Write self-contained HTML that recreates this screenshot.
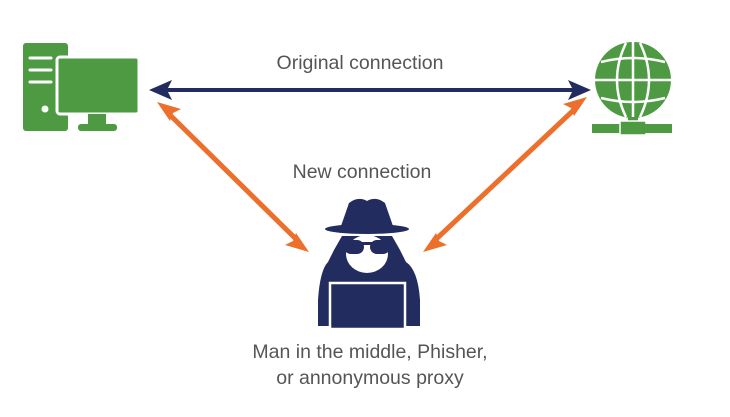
<!DOCTYPE html>
<html><head><style>
html,body{margin:0;padding:0;background:#fff;}
svg{display:block}
text{font-family:"Liberation Sans",sans-serif;fill:#555;font-size:19.5px;font-weight:300;}
</style></head><body>
<svg width="730" height="417" viewBox="0 0 730 417" xmlns="http://www.w3.org/2000/svg">
<g fill="#4e9a43">
<rect x="23" y="43" width="45" height="88" rx="3"/>
<rect x="57" y="57" width="82" height="57" rx="3" stroke="#fff" stroke-width="3"/>
<rect x="88" y="114" width="18" height="10"/>
<rect x="78" y="124" width="39" height="7" rx="3"/>
</g>
<g stroke="#fff" stroke-width="3" stroke-linecap="round">
<line x1="30" y1="58" x2="51" y2="58"/>
<line x1="30" y1="70" x2="51" y2="70"/>
<line x1="30" y1="82" x2="51" y2="82"/>
</g>
<circle cx="45" cy="109" r="3.5" fill="#fff"/>
<g>
<circle cx="633" cy="80" r="38" fill="#4e9a43"/>
<g stroke="#fff" stroke-width="2.5" fill="none">
<path d="M626 43 Q608 80 626 117"/>
<path d="M640 43 Q658 80 640 117"/>
<line x1="633" y1="42" x2="633" y2="118"/>
<line x1="595" y1="80" x2="671" y2="80"/>
<path d="M601 62 Q633 54 665 62"/>
<path d="M601 98 Q633 106 665 98"/>
</g>
<rect x="628" y="117" width="10" height="8" fill="#4e9a43"/>
<rect x="592" y="124" width="33" height="9" fill="#4e9a43"/>
<rect x="620" y="121" width="26" height="14" fill="#4e9a43" stroke="#fff" stroke-width="1.5"/>
<rect x="641" y="124" width="31" height="9" fill="#4e9a43"/>
</g>
<g fill="#232c5e">
<rect x="165" y="88" width="410" height="4"/>
<polygon points="149,90 172,80 167,90 172,100"/>
<polygon points="591,90 568,80 573,90 568,100"/>
</g>
<g stroke="#ec6f2c" stroke-width="5">
<line x1="166" y1="111" x2="300" y2="243"/>
<line x1="578" y1="106" x2="432" y2="243"/>
</g>
<g fill="#ec6f2c">
<polygon points="157,102 181,109 173,113 170,121"/>
<polygon points="309,252 285,245 293,241 296,233"/>
<polygon points="587,97 563,104 571,108 574,116"/>
<polygon points="423,252 447,245 439,241 436,233"/>
</g>
<g fill="#232c5e">
<path d="M341 226 L349 203 Q358 196 367 201 Q376 196 385 203 L393 226 Z"/>
<ellipse cx="367" cy="229" rx="42" ry="5"/>
<path d="M334 250 L342 236 L392 236 L400 250 L406 262 Q418 270 420 300 L420 326 L318 326 L318 300 Q320 270 328 262 Z"/>
</g>
<ellipse cx="367" cy="254" rx="21" ry="19" fill="#fff"/>
<g fill="#232c5e">
<rect x="344" y="240" width="20" height="14" rx="7"/>
<rect x="370" y="240" width="20" height="14" rx="7"/>
<rect x="360" y="242" width="14" height="3"/>
</g>
<rect x="330" y="283" width="75" height="46" fill="#232c5e" stroke="#fff" stroke-width="2.5"/>
<text x="360" y="69" text-anchor="middle">Original connection</text>
<text x="362" y="178" text-anchor="middle">New connection</text>
<text x="370" y="358" text-anchor="middle">Man in the middle, Phisher,</text>
<text x="370" y="384" text-anchor="middle">or annonymous proxy</text>
</svg>
</body></html>
